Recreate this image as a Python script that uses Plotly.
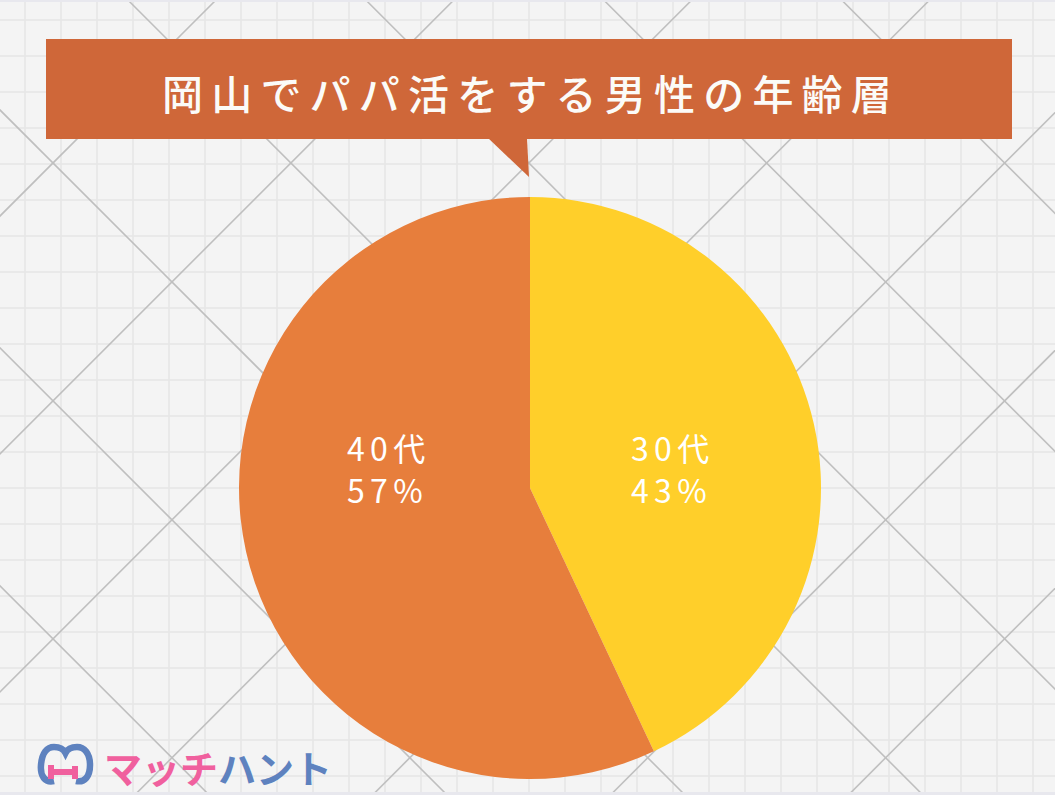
import math
import plotly.graph_objects as go

W, H = 1055, 795

# ---- data ----
labels = ["30代", "40代"]
values = [43, 57]
colors = ["#ffcf2a", "#e77e3c"]
title_text = "岡山でパパ活をする男性の年齢層"
brand_pink = "マッチ"
brand_blue = "ハント"

def px(x):
    return x / W

def py(y):
    return 1 - y / H

def P(x, y):
    return f"{px(x)},{py(y)}"

shapes = []
# background
shapes.append(dict(type="rect", xref="paper", yref="paper", x0=0, x1=1, y0=0, y1=1,
                   fillcolor="#f4f4f4", line=dict(width=0), layer="below"))
# fine grid
grid_col = "#e6e6e6"
x = 25
while x < W:
    shapes.append(dict(type="line", xref="paper", yref="paper", x0=px(x), x1=px(x), y0=0, y1=1,
                       line=dict(color=grid_col, width=1.6), layer="below"))
    x += 36
y = 20
while y < H:
    shapes.append(dict(type="line", xref="paper", yref="paper", x0=0, x1=1, y0=py(y), y1=py(y),
                       line=dict(color=grid_col, width=1.6), layer="below"))
    y += 36
# diagonal lattice
diag_col = "#bfbfbf"
step = 237.9
c = -110 - 4 * step
while c < W:
    shapes.append(dict(type="line", xref="paper", yref="paper", x0=px(c), y0=py(0),
                       x1=px(c + H), y1=py(H), line=dict(color=diag_col, width=1.6), layer="below"))
    c += step
c = 216 - step
while c < W + H + step:
    shapes.append(dict(type="line", xref="paper", yref="paper", x0=px(c), y0=py(0),
                       x1=px(c - H), y1=py(H), line=dict(color=diag_col, width=1.6), layer="below"))
    c += step
# top / bottom edge strips
shapes.append(dict(type="rect", xref="paper", yref="paper", x0=0, x1=1, y0=py(2), y1=py(0),
                   fillcolor="#e8e8ee", line=dict(width=0), layer="below"))
shapes.append(dict(type="rect", xref="paper", yref="paper", x0=0, x1=1, y0=py(H), y1=py(H - 3),
                   fillcolor="#e8e8ee", line=dict(width=0), layer="below"))

# title box + pointer
box_col = "#cf6739"
shapes.append(dict(type="rect", xref="paper", yref="paper", x0=px(46), x1=px(1012), y0=py(139), y1=py(39),
                   fillcolor=box_col, line=dict(width=0), layer="below"))
shapes.append(dict(type="path", xref="paper", yref="paper",
                   path=f"M {P(488,138)} L {P(527,138)} L {P(529,177)} Z",
                   fillcolor=box_col, line=dict(width=0), layer="below"))

# logo icon (decorative)
blue = "#5e82bf"
pink = "#f0609e"
icon_blue = (f"M {P(54,781)} C {P(45,783)} {P(40,776)} {P(41,765)} "
             f"C {P(42,753)} {P(47,747)} {P(54,747)} "
             f"C {P(60,747)} {P(64,750)} {P(65.5,753)} "
             f"C {P(67,750)} {P(71,747)} {P(77,747)} "
             f"C {P(84,747)} {P(90,753)} {P(90,765)} "
             f"C {P(90,776)} {P(85,783)} {P(76,781)}")
shapes.append(dict(type="path", xref="paper", yref="paper", path=icon_blue,
                   line=dict(color=blue, width=6.5), layer="below"))
icon_pink = (f"M {P(51,765)} L {P(51,779)} M {P(51,772)} L {P(75,772)} "
             f"M {P(75,766)} L {P(75,779)}")
shapes.append(dict(type="path", xref="paper", yref="paper", path=icon_pink,
                   line=dict(color=pink, width=6), layer="below"))

fig = go.Figure()
cx, cy, r = 530, 488, 291
fig.add_trace(go.Pie(
    labels=labels, values=values, sort=False, direction="clockwise", rotation=0,
    marker=dict(colors=colors, line=dict(width=0)),
    textinfo="none", hoverinfo="label+percent", showlegend=False,
    domain=dict(x=[px(cx - r), px(cx + r)], y=[(H - cy - r) / H, (H - cy + r) / H]),
))

annotations = [
    dict(xref="paper", yref="paper", x=px(527), y=py(92), xanchor="center", yanchor="middle",
         text="\u2009".join(title_text), showarrow=False,
         font=dict(family="Noto Sans CJK JP", size=41, color="#fbfbf8", weight=500)),
    dict(xref="paper", yref="paper", x=px(102), y=py(766), xanchor="left", yanchor="middle",
         text=f"<span style='color:{pink}'>{brand_pink}</span><span style='color:{blue}'>{brand_blue}</span>",
         showarrow=False, font=dict(family="Noto Sans CJK JP", size=38, weight="bold")),
]

# slice labels: horizontal position from each slice's mid-angle, one shared text row
total = sum(values)
cum = 0
lab_font = dict(family="Noto Sans CJK JP", size=32, color="white")
row_y = cy - 20
for lab, v in zip(labels, values):
    mid = 2 * math.pi * (cum + v / 2) / total
    cum += v
    lx = cx + 0.5 * r * math.sin(mid)
    left = lx - 43
    text = "\u2006".join(lab) + "<br>" + "\u2006".join(f"{v}%")
    annotations.append(dict(xref="paper", yref="paper", x=px(left), y=py(row_y),
                            xanchor="left", yanchor="middle", align="left", showarrow=False,
                            text=text, font=lab_font))

fig.update_layout(
    width=W, height=H, margin=dict(l=0, r=0, t=0, b=0),
    paper_bgcolor="#f4f4f4", plot_bgcolor="#f4f4f4",
    shapes=shapes, annotations=annotations,
)
fig.write_html("out.html")
